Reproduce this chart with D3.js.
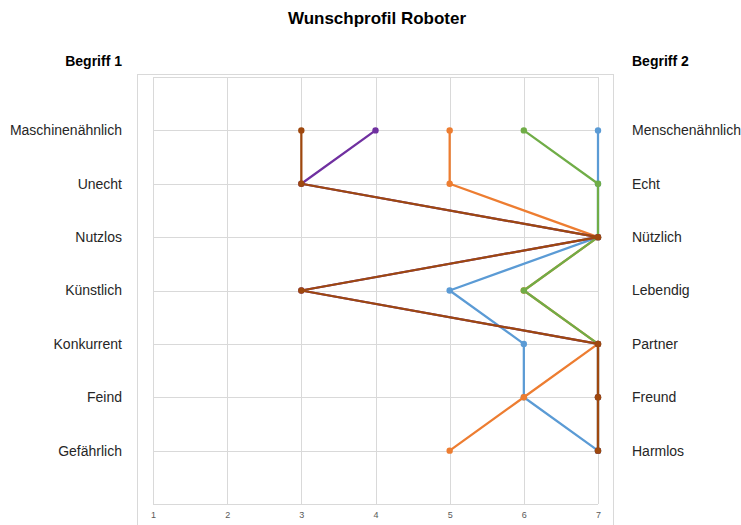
<!DOCTYPE html>
<html>
<head>
<meta charset="utf-8">
<script src="https://cdn.jsdelivr.net/npm/d3@7"></script>
<style>
  body { margin: 0; background: #fff; }
  svg { font-family: "Liberation Sans", Arial, sans-serif; }
</style>
</head>
<body>
<svg id="chart" width="741" height="525"></svg>
<script>
// Semantic differential: left-hand terms (value 1) vs right-hand terms (value 7)
const leftTerms  = ["Maschinenähnlich", "Unecht", "Nutzlos", "Künstlich", "Konkurrent", "Feind", "Gefährlich"];
const rightTerms = ["Menschenähnlich", "Echt", "Nützlich", "Lebendig", "Partner", "Freund", "Harmlos"];
const scaleTicks = [1, 2, 3, 4, 5, 6, 7];

// Rating profiles, one value per term pair (drawn in this order)
const blueValues   = [7, 7, 7, 5, 6, 6, 7];
const orangeValues = [5, 5, 7, 6, 7, 6, 5];
const greenValues  = [6, 7, 7, 6, 7, 7, 7];
const purpleValues = [4, 3, 7, 3, 7, 7, 7];
const brownValues  = [3, 3, 7, 3, 7, 7, 7];

const seriesList = [
  { values: blueValues,   color: "#5B9BD5" },
  { values: orangeValues, color: "#ED7D31" },
  { values: greenValues,  color: "#70AD47" },
  { values: purpleValues, color: "#7030A0" },
  { values: brownValues,  color: "#9E480E" }
];

const svg = d3.select("#chart");

const plot = { left: 153, right: 598, top: 77, bottom: 504 };

const x = d3.scaleLinear().domain([1, 7]).range([plot.left, plot.right]);
const y = d3.scaleLinear().domain([0, leftTerms.length + 1]).range([plot.top, plot.bottom]);

// Outer frame of the plot region
svg.append("rect")
  .attr("x", 137.5).attr("y", 74.5)
  .attr("width", 476).attr("height", 460)
  .attr("fill", "none").attr("stroke", "#d9d9d9");

// Horizontal gridlines
svg.append("g").selectAll("line")
  .data(d3.range(0, leftTerms.length + 2))
  .join("line")
  .attr("x1", plot.left).attr("x2", plot.right)
  .attr("y1", d => Math.round(y(d)) + 0.5).attr("y2", d => Math.round(y(d)) + 0.5)
  .attr("stroke", "#d9d9d9").attr("stroke-width", 1);

// Vertical gridlines
svg.append("g").selectAll("line")
  .data(scaleTicks)
  .join("line")
  .attr("x1", d => Math.round(x(d)) + 0.5).attr("x2", d => Math.round(x(d)) + 0.5)
  .attr("y1", plot.top).attr("y2", plot.bottom)
  .attr("stroke", "#d9d9d9").attr("stroke-width", 1);

// Bottom axis tick labels
const xAxis = d3.axisBottom(x).tickValues(scaleTicks).tickSize(0).tickPadding(8).tickFormat(d3.format("d"));
const axisG = svg.append("g")
  .attr("transform", `translate(0,${plot.bottom})`)
  .call(xAxis);
axisG.select(".domain").remove();
axisG.selectAll("text")
  .attr("font-family", "'Liberation Sans', Arial, sans-serif")
  .attr("font-size", 9).attr("fill", "#595959");

// Profile lines and markers
const line = d3.line()
  .x(d => x(d.v))
  .y(d => y(d.i + 1));

seriesList.forEach(s => {
  const pts = s.values.map((v, i) => ({ v, i }));
  svg.append("path")
    .datum(pts)
    .attr("d", line)
    .attr("fill", "none")
    .attr("stroke", s.color)
    .attr("stroke-width", 2.25)
    .attr("stroke-linejoin", "round");
  svg.append("g").selectAll("circle")
    .data(pts)
    .join("circle")
    .attr("cx", d => x(d.v))
    .attr("cy", d => y(d.i + 1))
    .attr("r", 3.2)
    .attr("fill", s.color);
});

// Term labels on both sides
svg.append("g").selectAll("text")
  .data(leftTerms)
  .join("text")
  .attr("x", 122)
  .attr("y", (d, i) => y(i + 1))
  .attr("dy", "0.35em")
  .attr("text-anchor", "end")
  .attr("font-size", 14)
  .attr("fill", "#262626")
  .text(d => d);

svg.append("g").selectAll("text")
  .data(rightTerms)
  .join("text")
  .attr("x", 632)
  .attr("y", (d, i) => y(i + 1))
  .attr("dy", "0.35em")
  .attr("text-anchor", "start")
  .attr("font-size", 14)
  .attr("fill", "#262626")
  .text(d => d);

// Column headers
svg.append("text")
  .attr("x", 122).attr("y", 66)
  .attr("text-anchor", "end")
  .attr("font-size", 14).attr("font-weight", "bold").attr("fill", "#000")
  .text("Begriff 1");

svg.append("text")
  .attr("x", 632).attr("y", 66)
  .attr("text-anchor", "start")
  .attr("font-size", 14).attr("font-weight", "bold").attr("fill", "#000")
  .text("Begriff 2");

// Title
svg.append("text")
  .attr("x", 377).attr("y", 24)
  .attr("text-anchor", "middle")
  .attr("font-size", 17).attr("font-weight", "bold").attr("fill", "#000")
  .text("Wunschprofil Roboter");
</script>
</body>
</html>
